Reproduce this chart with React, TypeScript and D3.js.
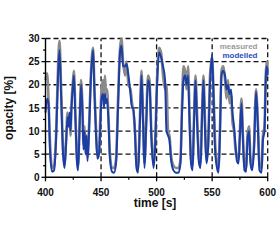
import React from "react";
import * as d3 from "d3";

const times = [400,401.4,402.7,404,405.9,407.7,409.5,411.3,412.6,414,415.8,417.1,418.5,419.8,420.7,421.6,422.5,423.4,424.8,425.6,427,428.4,429.3,430.6,432,433.3,434.2,435.1,436,436.9,437.8,439.2,441,442.8,444.1,445.5,446.8,448.2,449.5,450.4,451.8,452.6,453.5,454.4,455.3,456.7,458,459.9,461.7,463.5,465.3,467.1,468.4,469.8,471.6,472.9,474.7,476.5,477.9,479.2,480.6,481.9,483.3,485,486.4,487.8,489.1,490.5,492.3,493.6,495.4,497.2,498.6,500.4,502.2,504,505.8,507.6,508.9,510.3,511.6,512.9,515.2,517.5,519.7,521.5,522.9,524.2,525.6,526.9,528.3,529.6,531,532.3,533.7,535,536.4,538.2,539.5,540.9,542.2,543.6,544.9,546.3,548.1,549.9,551.2,552.6,554.4,555.7,557.1,558.4,559.8,561.6,562.9,564.3,565.6,567,568.3,569.7,571,572.3,573.7,575,576.4,577.7,579.1,580.5,581.8,583.2,584.5,585.9,587.7,589.5,591.3,592.6,594.4,595.7,597.1,598.4,599.4,600];

const modelled = [14,17,16,6,1.2,1.5,8,22,27.5,18,5,2,7,13,11,14,10,15,20,22,12,3,1.5,10,20,14,6,10,5,9,3.5,10,22,27.5,18,9,4,5,12,17,18,15,18,16,17,12,4,1.2,1,3,15,27,28.5,24,24,24.5,22,18,15,15,9,2,1,12,22,12,2,10,21,20,8,2,6,20,27,26,24,21,10,9,8,4,1.5,1,1,3,14,21,22,20,22,12,3,1.5,12,21,12,3,2,13,21,10,3,6,20,26.5,18,6,2,1,10,22,23,22,19,20,18,19,14,11,7,3.5,3,9,16,8,1.5,1.2,8,10,3,1.5,6,18.5,10,1.5,1,8,10,22,24,22];

const measured = [21,22.5,17,8,2,2.5,9,24,29.5,20,6,3,8,14,11,13,9,16,21,23,13,4,2.5,11,21,15,7,11,6,9,4.5,11,23,28,19,10,5,6,14,19,21,17,22,18,19,13,5,2,2,4,17,28,30,25,22,25,20,19,16,14,10,3,2,13,23,13,3,11,22,21,9,3,7,21,28,27,22,19,20,10,9,5,2.5,2,2,4,16,24,23,19,24,14,4,2.5,13,22,14,4,3,14,22,12,4,7,22,26,19,8,3,2,11,23,24,21,17,21,16,18,12,10,6,4.5,4,10,17,9,2.5,2,9,11,4,2.5,7,19,11,2.5,2,9,11,23,25,23];

const yTicks = [0, 5, 10, 15, 20, 25, 30];
const xTicks = [400, 450, 500, 550, 600];
const yMinor = [2.5, 7.5, 12.5, 17.5, 22.5, 27.5];
const xMinor = [425, 475, 525, 575];
const legendLabels = ["measured", "modelled"];

export default function App() {
  const x = d3.scaleLinear().domain([400, 600]).range([45.5, 267.7]);
  const y = d3.scaleLinear().domain([0, 30]).range([177.3, 38.5]);
  const line = d3
    .line<number>()
    .x((_, i) => x(times[i]))
    .y((d) => y(d))
    .curve(d3.curveMonotoneX);
  const font = "'Liberation Sans', Arial, sans-serif";
  const x0 = x(400), x1 = x(600), y0 = y(0), y1 = y(30);
  const grid = "#111";
  return (
    <svg width={280} height={243} style={{ position: "absolute", left: 0, top: 0 }}>
      <rect width={280} height={243} fill="#fff" />
      {yTicks.filter((t) => t > 0).map((t) => (
        <line key={"hy" + t} x1={x0} x2={x1} y1={y(t)} y2={y(t)} stroke={grid} strokeWidth={1.3} strokeDasharray="5,3" />
      ))}
      {xTicks.filter((t) => t > 400).map((t) => (
        <line key={"vx" + t} x1={x(t)} x2={x(t)} y1={y0} y2={y1} stroke={grid} strokeWidth={1.3} strokeDasharray="5,3" />
      ))}
      <path d={line(measured) || ""} fill="none" stroke="#8a8a8a" strokeWidth={2.6} strokeLinejoin="round" />
      <path d={line(modelled) || ""} fill="none" stroke="#1b3da6" strokeWidth={2} strokeLinejoin="round" />
      <line x1={x0} x2={x0} y1={y1} y2={y0} stroke="#000" strokeWidth={1.4} />
      <line x1={x0} x2={x1} y1={y0} y2={y0} stroke="#000" strokeWidth={1.4} />
      {yTicks.map((t) => (
        <g key={"yt" + t}>
          <line x1={x0 - 4} x2={x0} y1={y(t)} y2={y(t)} stroke="#000" strokeWidth={1.3} />
          <text x={39.5} y={y(t) + 3.6} textAnchor="end" fontFamily={font} fontWeight="bold" fontSize={10} fill="#111">{t}</text>
        </g>
      ))}
      {yMinor.map((t) => (
        <line key={"ym" + t} x1={x0 - 2.5} x2={x0} y1={y(t)} y2={y(t)} stroke="#000" strokeWidth={1.2} />
      ))}
      {xTicks.map((t) => (
        <g key={"xt" + t}>
          <line x1={x(t)} x2={x(t)} y1={y0} y2={y0 + 4} stroke="#000" strokeWidth={1.3} />
          <text x={x(t)} y={195.5} textAnchor="middle" fontFamily={font} fontWeight="bold" fontSize={10} fill="#111">{t}</text>
        </g>
      ))}
      {xMinor.map((t) => (
        <line key={"xm" + t} x1={x(t)} x2={x(t)} y1={y0} y2={y0 + 2.5} stroke="#000" strokeWidth={1.2} />
      ))}
      <text x={155} y={207} textAnchor="middle" fontFamily={font} fontWeight="bold" fontSize={12} fill="#111">time [s]</text>
      <text transform={`translate(12.5,${(y0 + y1) / 2}) rotate(-90)`} textAnchor="middle" fontFamily={font} fontWeight="bold" fontSize={12} fill="#111">opacity [%]</text>
      <text x={257.5} y={49} textAnchor="end" fontFamily={font} fontWeight="bold" fontSize={8} fill="#9a9a9a">{legendLabels[0]}</text>
      <text x={257.5} y={57.5} textAnchor="end" fontFamily={font} fontWeight="bold" fontSize={8} fill="#2a4fb8">{legendLabels[1]}</text>
    </svg>
  );
}
